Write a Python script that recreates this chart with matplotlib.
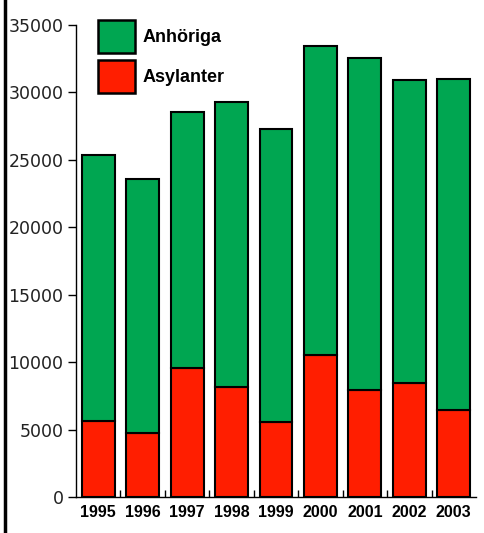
import numpy as np
import matplotlib.pyplot as plt
from matplotlib.patches import Patch
from matplotlib.lines import Line2D

# Data
years = ['1995', '1996', '1997', '1998', '1999', '2000', '2001', '2002', '2003']
asylanter = [5630, 4740, 9560, 8150, 5560, 10530, 7930, 8450, 6450]
totalt = [25350, 23570, 28540, 29280, 27280, 33430, 32540, 30910, 30990]
anhoriga = [t - a for t, a in zip(totalt, asylanter)]

green = '#00a651'
red = '#ff1e00'

fig = plt.figure(figsize=(4.85, 5.33), dpi=100)
ax = fig.add_axes([76 / 485, 1 - 497 / 533, 400 / 485, 472 / 533])

x = np.arange(len(years))
ax.bar(x, asylanter, width=0.74, color=red, edgecolor='black', linewidth=1.5)
ax.bar(x, anhoriga, bottom=asylanter, width=0.74, color=green,
       edgecolor='black', linewidth=1.5)

ax.set_xlim(-0.5, len(years) - 0.5)
ax.set_ylim(0, 35000)
ax.set_yticks(range(0, 35001, 5000))
ax.tick_params(axis='y', labelsize=12.5, length=6, width=1, pad=3,
               labelcolor='#222222')
for lab in ax.get_yticklabels():
    lab.set_family('DejaVu Sans')

ax.set_xticks(x)
ax.set_xticklabels(years, fontsize=11.5, fontweight='bold',
                   family='Liberation Sans')
ax.tick_params(axis='x', length=0, pad=6)
ax.set_xticks(np.arange(0.5, len(years) - 0.5, 1), minor=True)
ax.tick_params(axis='x', which='minor', direction='in', length=5, width=1)

ax.spines['top'].set_visible(False)
ax.spines['right'].set_visible(False)
ax.spines['left'].set_linewidth(1)
ax.spines['bottom'].set_linewidth(1)

handles = [Patch(facecolor=green, edgecolor='black', linewidth=1.8),
           Patch(facecolor=red, edgecolor='black', linewidth=1.8)]
fig.legend(handles, ['Anhöriga', 'Asylanter'], loc='upper left',
           bbox_to_anchor=(98 / 485, 1 - 20 / 533), bbox_transform=fig.transFigure,
           frameon=False, borderpad=0, borderaxespad=0, handlelength=2.05,
           handleheight=2.43, handletextpad=0.4, labelspacing=0.39,
           prop={'family': 'Liberation Sans', 'weight': 'bold', 'size': 13})

# black border line down the left edge
fig.add_artist(Line2D([5 / 485, 5 / 485], [0, 1], color='black', linewidth=2.5,
                      transform=fig.transFigure))

plt.savefig('out.png', dpi=100)
